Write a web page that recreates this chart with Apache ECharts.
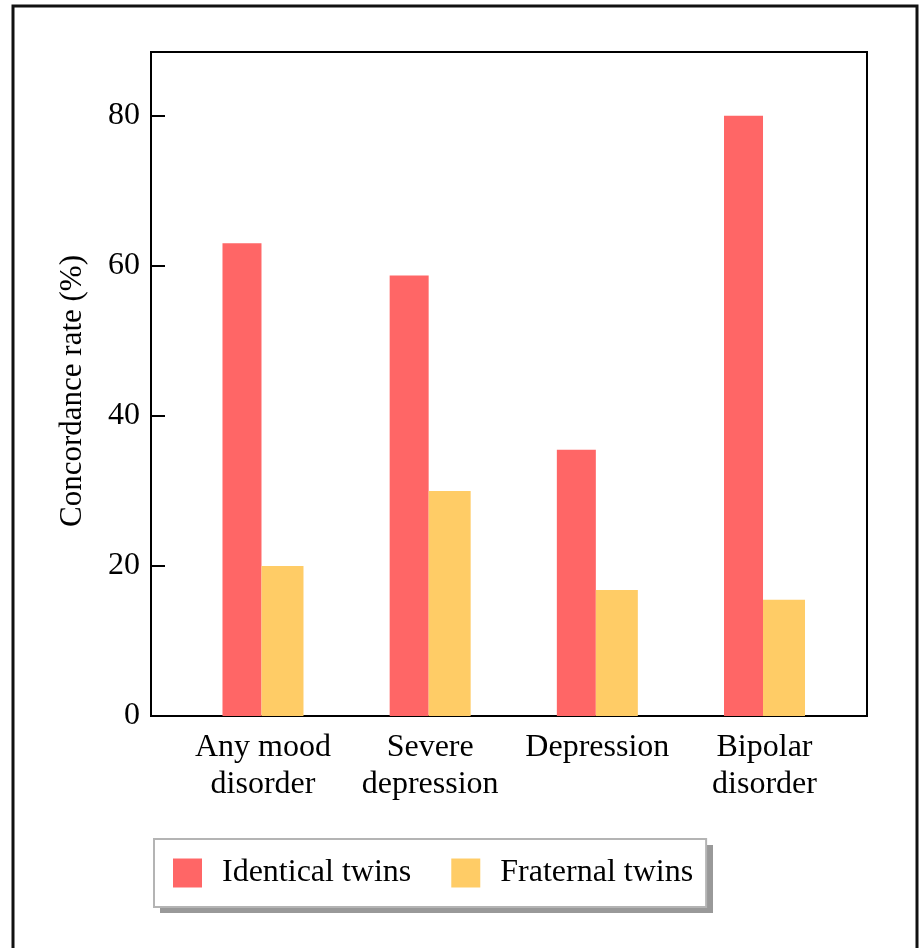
<!DOCTYPE html>
<html>
<head>
<meta charset="utf-8">
<script src="https://cdn.jsdelivr.net/npm/echarts@6/dist/echarts.min.js"></script>
<style>
  html, body { margin: 0; padding: 0; background: #fff; }
  #chart { width: 920px; height: 948px; }
</style>
</head>
<body>
<div id="chart"></div>
<script>
// Twin concordance rates for mood disorders (%)
const categories = ['Any mood\ndisorder', 'Severe\ndepression', 'Depression', 'Bipolar\ndisorder'];
const identicalTwins = [63, 58.7, 35.5, 80];
const fraternalTwins = [20, 30, 16.8, 15.5];
const seriesNames = ['Identical twins', 'Fraternal twins'];
const yTicks = { min: 0, max: 88.5, interval: 20 };

const FONT = 'Liberation Serif';
const FS = 32;
const chart = echarts.init(document.getElementById('chart'), null, { renderer: 'canvas' });

chart.setOption({
  backgroundColor: '#ffffff',
  animation: false,
  graphic: [
    {
      // page frame
      type: 'rect',
      silent: true,
      z: -1,
      shape: { x: 13, y: 6, width: 904, height: 1000 },
      style: { fill: 'none', stroke: '#111', lineWidth: 3 }
    },
    {
      // drop shadow behind the legend box
      type: 'rect',
      silent: true,
      z: 1,
      shape: { x: 160, y: 845, width: 553, height: 68 },
      style: { fill: '#999', stroke: 'none' }
    }
  ],
  grid: [
    // framed plotting area carrying the value axis
    { left: 151, top: 52, width: 716, height: 664, show: true, borderColor: '#000', borderWidth: 2, backgroundColor: 'transparent' },
    // area holding the category bands
    { left: 179.4, top: 52, width: 668.7, height: 664 }
  ],
  legend: {
    left: 154,
    top: 839,
    z: 5,
    orient: 'horizontal',
    icon: 'rect',
    itemWidth: 29,
    itemHeight: 29,
    itemGap: 40,
    padding: [18, 13, 18, 19],
    backgroundColor: '#fff',
    borderColor: '#b4b4b4',
    borderWidth: 2,
    textStyle: { fontFamily: FONT, fontSize: FS, color: '#000', padding: [2, 0, 0, 15] },
    data: seriesNames
  },
  xAxis: [
    { gridIndex: 0, type: 'value', min: 0, max: 1, show: false },
    {
      gridIndex: 1,
      type: 'category',
      data: categories,
      axisLine: { show: false },
      axisTick: { show: false },
      axisLabel: { fontFamily: FONT, fontSize: FS, color: '#000', lineHeight: 37, margin: 13, interval: 0 }
    }
  ],
  yAxis: [
    {
      gridIndex: 0,
      type: 'value',
      min: yTicks.min,
      max: yTicks.max,
      interval: yTicks.interval,
      name: 'Concordance rate (%)',
      nameLocation: 'middle',
      nameGap: 63,
      nameTextStyle: { fontFamily: FONT, fontSize: 31, color: '#000', padding: [0, 14, 0, 0] },
      axisLine: { show: true, lineStyle: { color: '#000', width: 2 } },
      axisTick: { show: true, inside: true, length: 14, lineStyle: { color: '#000', width: 2 } },
      axisLabel: { fontFamily: FONT, fontSize: FS, color: '#000', margin: 11, padding: [4, 0, 0, 0], showMaxLabel: false },
      splitLine: { show: false }
    },
    { gridIndex: 1, type: 'value', min: yTicks.min, max: yTicks.max, show: false, splitLine: { show: false } }
  ],
  series: [
    {
      name: seriesNames[0],
      type: 'bar',
      xAxisIndex: 1,
      yAxisIndex: 1,
      data: identicalTwins,
      barWidth: 39,
      barGap: '0%',
      itemStyle: { color: '#FF6666' }
    },
    {
      name: seriesNames[1],
      type: 'bar',
      xAxisIndex: 1,
      yAxisIndex: 1,
      data: fraternalTwins,
      barWidth: 42,
      barGap: '0%',
      itemStyle: { color: '#FFCC66' }
    }
  ]
});
</script>
</body>
</html>
